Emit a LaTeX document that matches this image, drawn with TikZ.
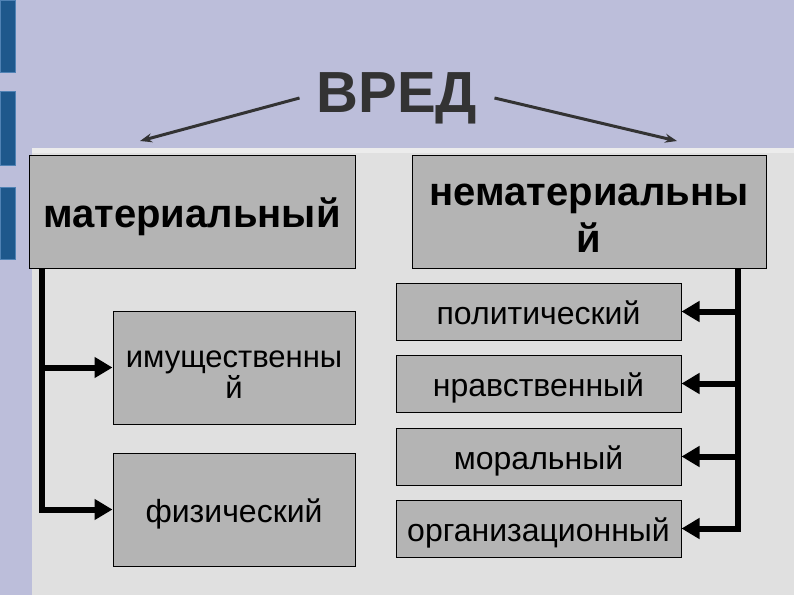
\documentclass[tikz,border=0pt]{standalone}
\usepackage{fontspec}
\setmainfont{Liberation Sans}
\definecolor{lavender-gray}{RGB}{188,190,218}
\definecolor{slide-gray}{RGB}{224,224,224}
\definecolor{slide-light}{RGB}{236,236,236}
\definecolor{box-gray}{RGB}{180,180,180}
\definecolor{bar-blue}{RGB}{30,88,140}
\definecolor{bar-edge}{RGB}{80,130,180}
\definecolor{title-gray}{RGB}{51,51,51}
\usetikzlibrary{arrows.meta}
\usetikzlibrary{positioning}

\begin{document}
\begin{tikzpicture}[%
            x=1pt,y=-1pt,
            harm/.style={%
              draw=black,
              fill=box-gray,
              line width=1pt,
              inner sep=0pt,
              align=center,
              text=black,
            },
            kind/.style={%
              harm,
              minimum height=113pt,
              text height=40pt,
              text depth=8pt,
              font=\fontsize{40}{47}\selectfont\bfseries,
            },
            sort/.style={%
              harm,
              minimum width=242pt,
              minimum height=113pt,
              text height=32pt,
              text depth=6.4pt,
              font=\fontsize{32}{28}\selectfont,
            },
            sort small/.style={%
              sort,
              minimum width=285pt,
              minimum height=57pt,
            },
            trunk/.style={line width=6pt,-{Triangle[length=18pt,width=20pt]}},
            pointer/.style={title-gray,line width=3pt,-{Stealth[length=12pt,width=9pt]}},
          ]
            \useasboundingbox (0,0) rectangle (794,595);
            % slide background
            \fill [lavender-gray] (0,0) rectangle (794,595);
            \fill [slide-gray] (32,148) rectangle (794,595);
            \fill [slide-light] (32,148) rectangle (794,153);
            \foreach \top/\bot in {0/72,91/165,187/259}
              \filldraw [bar-blue,draw=bar-edge,line width=1pt] (0,\top) rectangle (15,\bot);

            \node [%
              title-gray,
              inner xsep=17pt,
              inner ysep=0pt,
              font=\fontsize{58}{60}\selectfont\bfseries,
            ] (vred) at (397,98) {ВРЕД};

            % two kinds of harm
            \node [kind,minimum width=326pt] (mat) at (192,211.5) {материальный};
            \node [kind,minimum width=354pt,text height=89pt] (nemat) at (589,211.5) {нематериальны\\й};
            \coordinate (mat tip) at (140,141);
            \coordinate (nemat tip) at (677,141);
            \draw [pointer] (vred.west) -- (mat tip);
            \draw [pointer] (vred.east) -- (nemat tip);

            \node [sort,font=\fontsize{31}{28}\selectfont,text height=67pt,text depth=6pt] (imu) at (234,367.5) {имущественны\\й};
            \node [sort] (fiz) at (234,509.5) {физический};

            \node [sort small] (pol) at (538.5,311.5) {политический};
            \node [sort small,below=14pt of pol] (nrav) {нравственный};
            \node [sort small,below=15pt of nrav] (moral) {моральный};
            \node [sort small,below=14pt of moral] (org) {организационный};

            \foreach \n in {imu,fiz}
              \draw [trunk] ([xshift=13pt]mat.south west) |- (\n);
            \foreach \n in {pol,nrav,moral,org}
              \draw [trunk] ([xshift=-29pt]nemat.south east) |- (\n);
          \end{tikzpicture}
\end{document}
